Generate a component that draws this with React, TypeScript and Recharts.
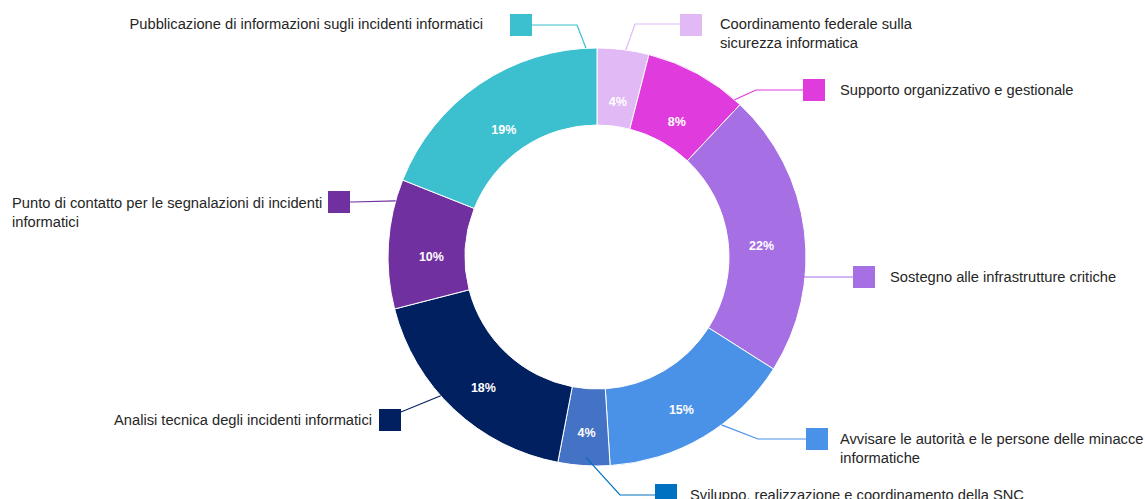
import { PieChart, Pie, Cell } from 'recharts'

// slices, clockwise from 12 o'clock
const categories = [
  'Coordinamento federale sulla\nsicurezza informatica',
  'Supporto organizzativo e gestionale',
  'Sostegno alle infrastrutture critiche',
  'Avvisare le autorità e le persone delle minacce\ninformatiche',
  'Sviluppo, realizzazione e coordinamento della SNC',
  'Analisi tecnica degli incidenti informatici',
  'Punto di contatto per le segnalazioni di incidenti\ninformatici',
  'Pubblicazione di informazioni sugli incidenti informatici',
]
const shares = [4, 8, 22, 15, 4, 18, 10, 19]
const sliceColors = ['#E0B9F5', '#E03BDD', '#A66FE3', '#4A91E8', '#4472C4', '#002060', '#7030A0', '#3CBFCE']
const markerColors = ['#E0B9F5', '#E03BDD', '#A66FE3', '#4A91E8', '#0070C0', '#002060', '#7030A0', '#3CBFCE']

const data = categories.map((name, i) => ({ name, value: shares[i] }))

// callout layout, offsets from the pie centre
// t = position along the slice, rf = fraction of outer radius
const callouts = [
  { t: 0.55, rf: 1, elbow: [38, -233], box: [83, -243], tx: 123, ty: -233, anchor: 'start' },
  { t: 0.93, rf: 1, elbow: [159, -167], box: [206, -178], tx: 243, ty: -167, anchor: 'start' },
  { t: 0.657, rf: 0.99, elbow: [208, 20], box: [256, 9], tx: 293, ty: 20, anchor: 'start' },
  { t: 0.39, rf: 1, elbow: [161, 182], box: [209, 171], tx: 243, ty: 182, anchor: 'start' },
  { t: 0.47, rf: 0.96, elbow: [23, 238], box: [58, 227], tx: 93, ty: 238, anchor: 'start' },
  { t: 0.58, rf: 1, elbow: [-196, 155], box: [-218, 152], tx: -225, ty: 163, anchor: 'end' },
  { t: 0.833, rf: 1, elbow: [-245, -55], box: [-269, -66], tx: -585, ty: -54, anchor: 'start' },
  { t: 0.956, rf: 1, elbow: [-20, -232], box: [-87, -243], tx: -114, ty: -233, anchor: 'end' },
]

const RAD = Math.PI / 180
const BOX = 22
const FONT = '"Liberation Sans", Arial, sans-serif'

const renderLabel = (props: any) => {
  const { cx, cy, midAngle, innerRadius, outerRadius, startAngle, endAngle, index, percent } = props
  const c = callouts[index]
  const color = markerColors[index]

  // percentage sits a little below the ring's mid-line, as in the source
  const pr = innerRadius + (outerRadius - innerRadius) * 0.44
  const px = cx + pr * Math.cos(-midAngle * RAD)
  const py = cy + 10 + pr * Math.sin(-midAngle * RAD)

  const a = startAngle + c.t * (endAngle - startAngle)
  const sr = outerRadius * c.rf
  const sx = cx + sr * Math.cos(-a * RAD)
  const sy = cy + sr * Math.sin(-a * RAD)
  const ex = cx + c.elbow[0]
  const ey = cy + c.elbow[1]
  const bx = cx + c.box[0]
  const by = cy + c.box[1]
  const boxEdge = bx + BOX < ex ? bx + BOX : bx
  const lines = categories[index].split('\n')

  return (
    <g>
      <text x={px} y={py} fill="#fff" fontSize={12.5} fontWeight={700} fontFamily={FONT}
        textAnchor="middle" dominantBaseline="central">
        {Math.round(percent * 100)}%
      </text>
      <polyline points={`${sx},${sy} ${ex},${ey} ${boxEdge},${ey}`}
        fill="none" stroke={color} strokeWidth={1.2} />
      <rect x={bx} y={by} width={BOX} height={BOX} fill={color} />
      <text x={cx + c.tx} y={cy + c.ty} fill="#262626" fontSize={14.7} fontFamily={FONT}
        textAnchor={c.anchor} dominantBaseline="central">
        {lines.map((l, i) => (
          <tspan key={i} x={cx + c.tx} dy={i === 0 ? 0 : 18.5}>{l}</tspan>
        ))}
      </text>
    </g>
  )
}

export default function App() {
  return (
    <div style={{ position: 'absolute', left: 0, top: 0, background: '#fff' }}>
      <PieChart width={1145} height={499} margin={{ top: 0, right: 0, bottom: 0, left: 0 }}>
        <Pie
          data={data} dataKey="value" nameKey="name"
          cx={597} cy={257} innerRadius={132} outerRadius={209}
          startAngle={90} endAngle={-270}
          stroke="#fff" strokeWidth={1}
          label={renderLabel} labelLine={false}
          isAnimationActive={false}
        >
          {data.map((_, i) => <Cell key={i} fill={sliceColors[i]} />)}
        </Pie>
      </PieChart>
    </div>
  )
}
